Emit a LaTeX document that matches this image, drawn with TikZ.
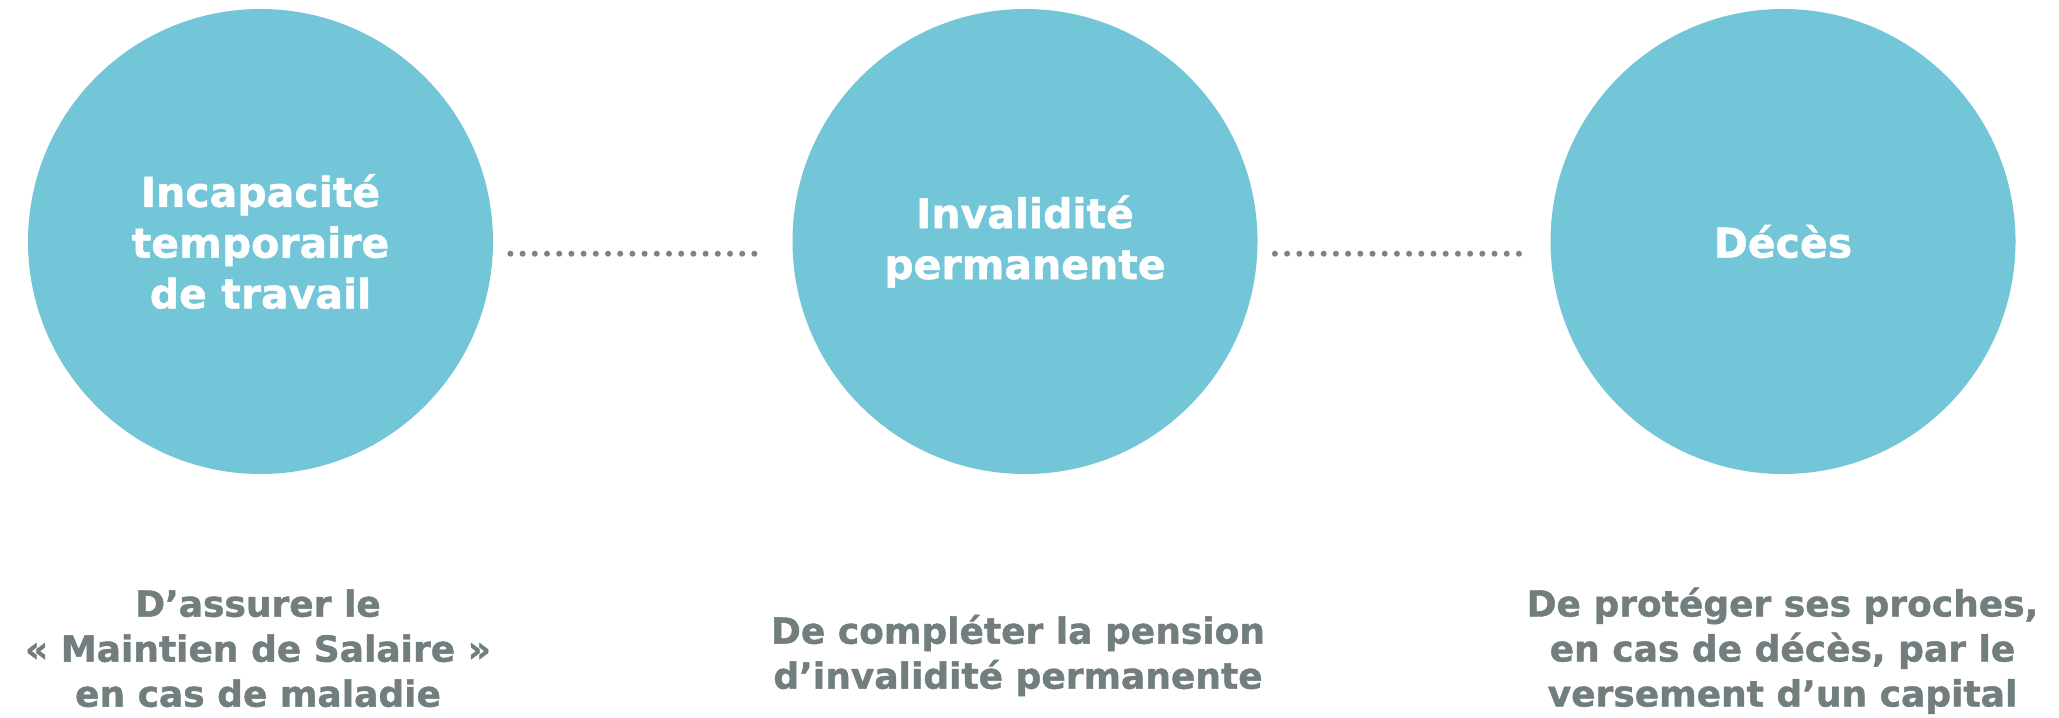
\documentclass[tikz,border=0pt]{standalone}
\usepackage{fontspec}
\setmainfont{DejaVu Sans}[BoldFeatures={FakeBold=1.2}]
\definecolor{bubblecol}{RGB}{115,198,215}
\definecolor{graytxt}{RGB}{114,126,126}
\definecolor{dotcol}{RGB}{122,132,132}
\tikzset{
  bubble/.style={circle, fill=bubblecol, draw=none, minimum size=232.5pt, inner sep=0pt,
    text=white, align=center, font=\bfseries\fontsize{20.5pt}{25.4pt}\selectfont},
  note/.style={text=graytxt, align=center, inner sep=0pt,
    font=\bfseries\fontsize{18pt}{22.5pt}\selectfont},
  dotline/.style={draw=dotcol, line width=3pt, line cap=round, dash pattern=on 0pt off 6.1pt}
}
\begin{document}
\begin{tikzpicture}[x=0.5pt, y=-0.5pt]
\useasboundingbox[fill=white] (0,0) rectangle (2059,717);
\node[bubble] (c1) at (260.5,241.5) {Incapacité\\temporaire\\de travail};
\node[bubble] (c2) at (1025,241.5) {Invalidité\\permanente};
\node[bubble] (c3) at (1783,241.5) {Décès};
\draw[dotline] ([xshift=8.5pt,yshift=-6.1pt]c1.east) -- ([xshift=-18.8pt,yshift=-6.1pt]c2.west);
\draw[dotline] ([xshift=8.5pt,yshift=-6.1pt]c2.east) -- ([xshift=-15.4pt,yshift=-6.1pt]c3.west);
\node[note, anchor=base] (n1) at (258,706.7) {D’assurer le\\«~Maintien de Salaire~»\\en cas de maladie};
\node[note, anchor=base] (n2) at (1018,688.7) {De compléter la pension\\d’invalidité permanente};
\node[note, anchor=base] (n3) at (1782.5,706.5) {De protéger ses proches,\\en cas de décès, par le\\versement d’un capital};
\end{tikzpicture}
\end{document}
